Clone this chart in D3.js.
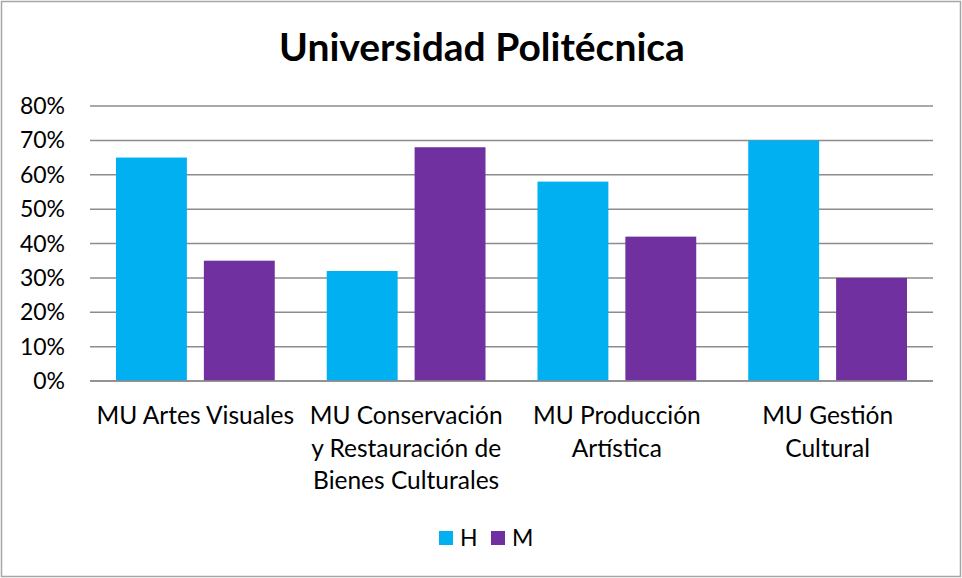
<!DOCTYPE html>
<html>
<head>
<meta charset="utf-8">
<script src="https://cdn.jsdelivr.net/npm/d3@7"></script>
<style>
  body { margin: 0; background: #fff; }
  svg { display: block; font-family: Lato, "Open Sans", sans-serif; }
</style>
</head>
<body>
<div id="chart"></div>
<script>
const categories = [
  ['MU Artes Visuales'],
  ['MU Conservación', 'y Restauración de', 'Bienes Culturales'],
  ['MU Producción', 'Artística'],
  ['MU Gestión', 'Cultural']
]
const seriesNames = ['H', 'M']
const hValues = [0.65, 0.32, 0.58, 0.70]
const mValues = [0.35, 0.68, 0.42, 0.30]
const yTicks = [0, 0.1, 0.2, 0.3, 0.4, 0.5, 0.6, 0.7, 0.8]
const colors = ['#00B0F0', '#7030A0']

const W = 962, H = 578
const plot = {left: 90, right: 933, top: 106, bottom: 381}

const svg = d3.select('#chart').append('svg').attr('width', W).attr('height', H)

svg.append('rect').attr('x', 1.5).attr('y', 1.5).attr('width', W - 3).attr('height', H - 3)
  .attr('fill', '#fff').attr('stroke', '#a6a6a6').attr('stroke-width', 1.5)

svg.append('text').attr('x', W / 2 + 1).attr('y', 61).attr('text-anchor', 'middle')
  .style('font-size', '39px').style('font-weight', 'bold').attr('fill', '#000')
  .text('Universidad Politécnica')

const x0 = d3.scaleBand().domain(d3.range(categories.length)).range([plot.left, plot.right]).paddingInner(0).paddingOuter(0)
const x1 = d3.scaleBand().domain(seriesNames).range([26, x0.bandwidth() - 26]).paddingInner(17 / 88)
const y = d3.scaleLinear().domain([0, 0.8]).range([plot.bottom, plot.top])

// gridlines
svg.append('g').selectAll('line').data(yTicks).enter().append('line')
  .attr('x1', plot.left).attr('x2', plot.right)
  .attr('y1', d => y(d)).attr('y2', d => y(d))
  .attr('stroke', '#8c8c8c').attr('stroke-width', 1.5)

// y labels
svg.append('g').selectAll('text').data(yTicks).enter().append('text')
  .attr('x', 65).attr('y', d => y(d) + 8).attr('text-anchor', 'end')
  .style('font-size', '23px').attr('fill', '#000')
  .text(d => d3.format('.0%')(d))

const rows = categories.map((c, i) => ({i: i, vals: [hValues[i], mValues[i]]}))
const groups = svg.append('g').selectAll('g').data(rows).enter().append('g')
  .attr('transform', d => 'translate(' + x0(d.i) + ',0)')
groups.selectAll('rect').data(d => d.vals.map((v, k) => ({k: k, v: v}))).enter().append('rect')
  .attr('x', d => x1(seriesNames[d.k])).attr('width', x1.bandwidth())
  .attr('y', d => y(d.v)).attr('height', d => y(0) - y(d.v))
  .attr('fill', d => colors[d.k])

// baseline over bars
svg.append('line').attr('x1', plot.left).attr('x2', plot.right)
  .attr('y1', y(0)).attr('y2', y(0)).attr('stroke', '#8c8c8c').attr('stroke-width', 1.5)

// category labels
const lbl = svg.append('g').selectAll('text').data(categories).enter().append('text')
  .attr('text-anchor', 'middle').style('font-size', '24.5px').attr('fill', '#000')
  .attr('transform', (d, i) => 'translate(' + (x0(i) + x0.bandwidth() / 2) + ',424)')
lbl.selectAll('tspan').data(d => d).enter().append('tspan')
  .attr('x', 0).attr('y', (d, i) => i * 32.5).text(d => d)

// legend
const legX = [439, 491]
const leg = svg.append('g').selectAll('g').data(seriesNames).enter().append('g')
  .attr('transform', (d, i) => 'translate(' + legX[i] + ',0)')
leg.append('rect').attr('x', 0).attr('y', 531).attr('width', 14).attr('height', 14)
  .attr('fill', (d, i) => colors[i])
leg.append('text').attr('x', 21).attr('y', 546).style('font-size', '23px').attr('fill', '#000').text(d => d)
</script>
</body>
</html>
